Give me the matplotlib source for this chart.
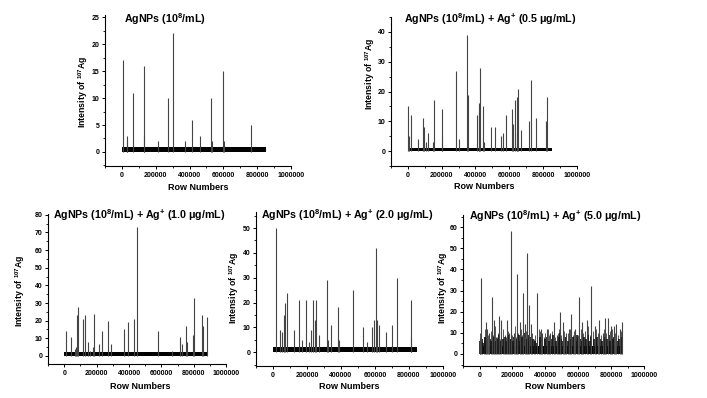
import numpy as np
import matplotlib.pyplot as plt
from matplotlib.ticker import MultipleLocator

plt.rcParams['font.family'] = ['Liberation Sans', 'DejaVu Sans']
plt.rcParams['font.weight'] = 'bold'
plt.rcParams['mathtext.fontset'] = 'custom'
plt.rcParams['mathtext.rm'] = 'Liberation Sans:bold'
plt.rcParams['mathtext.bf'] = 'Liberation Sans:bold'
plt.rcParams['mathtext.it'] = 'Liberation Sans:bold'
plt.rcParams['mathtext.default'] = 'rm'

# spikes: (row number, intensity)
p1_spikes = [(6000, 17), (28000, 2), (30000, 3), (68000, 11), (129000, 16), (131000, 3),
             (214000, 2), (273000, 10), (303000, 22), (374000, 2), (412000, 6),
             (465000, 3), (527000, 10), (535000, 2), (600000, 15), (605000, 2), (764000, 5)]
p2_spikes = [(2000, 15), (6000, 5), (20000, 12), (60000, 4), (90000, 11), (96000, 8),
             (110000, 3), (120000, 6), (150000, 3), (155000, 17), (201000, 5), (203000, 14),
             (285000, 27), (300000, 4), (352000, 39), (354000, 19), (408000, 12), (418000, 13),
             (420000, 16), (424000, 28), (444000, 15), (452000, 3), (492000, 8), (518000, 8),
             (548000, 5), (564000, 6), (578000, 12), (618000, 14), (622000, 9), (634000, 17),
             (644000, 18), (648000, 6), (654000, 21), (668000, 7), (714000, 10), (728000, 24),
             (757000, 11), (817000, 10), (821000, 18)]
p3_spikes = [(10000, 14), (41000, 11), (66000, 4), (72000, 5), (81000, 23), (85000, 28),
             (116000, 21), (126000, 23), (147000, 8), (157000, 3), (178000, 5), (184000, 24),
             (213000, 7), (233000, 14), (271000, 20), (287000, 7), (370000, 15), (395000, 19),
             (432000, 21), (446000, 73), (581000, 14), (667000, 3), (715000, 11), (725000, 7),
             (750000, 17), (760000, 8), (797000, 12), (804000, 33), (849000, 23), (855000, 17),
             (884000, 22)]
p4_spikes = [(20000, 50), (39000, 9), (53000, 8), (64000, 15), (72000, 20), (80000, 24),
             (121000, 9), (156000, 21), (170000, 5), (195000, 21), (213000, 4), (225000, 9),
             (238000, 21), (248000, 13), (254000, 21), (273000, 7), (316000, 29), (322000, 5),
             (342000, 11), (381000, 18), (391000, 5), (473000, 25), (531000, 10), (555000, 4),
             (580000, 10), (594000, 13), (604000, 42), (615000, 13), (625000, 11), (664000, 8),
             (703000, 11), (730000, 30), (811000, 21), (815000, 6)]
p5_spikes = [(0, 7), (8000, 36), (39000, 15), (45000, 12), (55000, 10), (76000, 27),
             (90000, 16), (100000, 8), (117000, 18), (133000, 16), (147000, 8), (164000, 16),
             (178000, 10), (194000, 58), (209000, 10), (229000, 38), (245000, 15), (266000, 29),
             (274000, 14), (288000, 48), (303000, 23), (313000, 14), (348000, 29), (372000, 12),
             (382000, 10), (407000, 12), (431000, 10), (450000, 15), (468000, 9), (491000, 20),
             (505000, 15), (525000, 10), (542000, 12), (558000, 19), (582000, 12), (607000, 27),
             (623000, 15), (654000, 16), (678000, 32), (699000, 13), (729000, 16), (749000, 10),
             (760000, 17), (780000, 17), (800000, 13), (817000, 13), (831000, 14), (851000, 12),
             (868000, 15)]
p5_noise = [(5000, 10), (15000, 6), (25000, 8), (32000, 12), (50000, 9), (60000, 7),
            (68000, 11), (83000, 9), (95000, 13), (105000, 8), (112000, 10), (125000, 7),
            (140000, 12), (152000, 9), (160000, 8), (170000, 11), (185000, 7), (200000, 9),
            (215000, 13), (222000, 8), (235000, 10), (252000, 12), (260000, 9), (280000, 11),
            (295000, 8), (320000, 10), (330000, 7), (340000, 9), (360000, 12), (365000, 11),
            (390000, 8), (400000, 10), (415000, 12), (425000, 9), (440000, 11), (458000, 8),
            (475000, 10), (485000, 12), (498000, 9), (512000, 11), (520000, 8), (535000, 10),
            (550000, 12), (565000, 9), (575000, 11), (590000, 8), (600000, 9), (615000, 12),
            (630000, 10), (640000, 11), (662000, 13), (670000, 9), (688000, 11), (710000, 12),
            (720000, 10), (740000, 9), (755000, 12), (770000, 10), (790000, 11), (808000, 12),
            (825000, 10), (840000, 9), (858000, 11)]
# dark ragged floor of the 5.0 ug/mL trace
p5_floor = [(3000, 6), (12000, 7), (20000, 5), (36000, 8), (42000, 6), (48000, 9), (64000, 7),
            (72000, 6), (88000, 8), (98000, 6), (108000, 7), (120000, 9), (130000, 6),
            (145000, 7), (156000, 8), (166000, 6), (175000, 9), (190000, 7), (205000, 6),
            (212000, 8), (226000, 7), (240000, 9), (248000, 6), (256000, 8), (270000, 10),
            (284000, 7), (292000, 9), (300000, 6), (308000, 8), (325000, 7), (335000, 6),
            (352000, 5), (370000, 8), (378000, 6), (395000, 7), (410000, 8), (420000, 6),
            (435000, 7), (445000, 9), (462000, 6), (480000, 8), (488000, 10), (495000, 7),
            (508000, 6), (528000, 8), (540000, 6), (555000, 7), (570000, 8), (585000, 6),
            (595000, 9), (610000, 7), (620000, 6), (635000, 8), (648000, 7), (658000, 9),
            (665000, 6), (680000, 8), (695000, 7), (705000, 6), (715000, 8), (733000, 7),
            (745000, 6), (762000, 8), (775000, 7), (785000, 9), (795000, 6), (812000, 7),
            (820000, 8), (835000, 6), (845000, 7), (862000, 8)]

# baseline band of 0/1 counts: (last row, level)
bases = [(850000, 1), (853000, 1), (884000, 2), (850000, 2), (872000, 4)]

titles = ['AgNPs (10$^{8}$/mL)',
          'AgNPs (10$^{8}$/mL) + Ag$^{+}$ (0.5 μg/mL)',
          'AgNPs (10$^{8}$/mL) + Ag$^{+}$ (1.0 μg/mL)',
          'AgNPs (10$^{8}$/mL) + Ag$^{+}$ (2.0 μg/mL)',
          'AgNPs (10$^{8}$/mL) + Ag$^{+}$ (5.0 μg/mL)']
ytops = [25, 40, 80, 50, 60]
ysteps = [5, 10, 10, 10, 10]

fig = plt.figure(figsize=(7.07, 3.98), dpi=100)

# [left, bottom, width, height], ylim, title xy, ylabel xy, xlabel xy
layout = [
    ([0.1485, 0.583, 0.263, 0.379], (-2.6, 25.4), (0.10, 0.975), (-0.078, 0.49), (0.50, -0.113)),
    ([0.553, 0.583, 0.263, 0.374], (-5, 45), (0.07, 0.99), (-0.073, 0.62), (0.50, -0.107)),
    ([0.068, 0.0854, 0.252, 0.377], (-4.6, 80.5), (0.03, 0.99), (-0.121, 0.49), (0.52, -0.12)),
    ([0.362, 0.0804, 0.2645, 0.387], (-5.6, 56.5), (0.027, 0.98), (-0.078, 0.51), (0.50, -0.104)),
    ([0.655, 0.0804, 0.256, 0.379], (-5.7, 65.7), (0.033, 0.995), (-0.075, 0.52), (0.51, -0.106)),
]
spikes = [p1_spikes, p2_spikes, p3_spikes, p4_spikes, p5_spikes]

for i in range(5):
    rect, ylim, tpos, ylpos, xlpos = layout[i]
    ax = fig.add_axes(rect)
    end, level = bases[i]
    ax.fill_between([0, end], 0, level, color='black', lw=0)
    if i == 4:
        nx, nh = zip(*p5_noise)
        ax.vlines(nx, 0, nh, color='#555555', lw=0.7)
        fx, fh = zip(*p5_floor)
        ax.vlines(fx, 0, fh, color='#111111', lw=1.2)
    xs, hs = zip(*spikes[i])
    ax.vlines(xs, 0, hs, color='#444444', lw=0.8)

    ax.set_xlim(-100000, 1000000)
    ax.set_ylim(*ylim)
    ax.set_yticks(np.arange(0, ytops[i] + 1, ysteps[i]))
    ax.set_xticks(np.arange(0, 1000001, 200000))
    ax.xaxis.set_minor_locator(MultipleLocator(100000))
    ax.yaxis.set_minor_locator(MultipleLocator(ysteps[i] / 2))
    ax.ticklabel_format(style='plain', axis='x')
    for s in ['top', 'right']:
        ax.spines[s].set_visible(False)
    for s in ['left', 'bottom']:
        ax.spines[s].set_linewidth(0.8)
    ax.tick_params(which='major', length=2.5, width=0.7, labelsize=5, pad=1.5)
    ax.tick_params(which='minor', length=1.5, width=0.6)
    for lab in ax.get_xticklabels() + ax.get_yticklabels():
        lab.set_fontweight('bold')

    ax.text(tpos[0], tpos[1], titles[i], transform=ax.transAxes, ha='left', va='center',
            fontsize=7.7, fontweight='bold')
    ax.set_ylabel('Intensity of $^{107}$Ag', fontsize=6.3, fontweight='bold')
    ax.yaxis.set_label_coords(*ylpos)
    ax.set_xlabel('Row Numbers', fontsize=6.5, fontweight='bold')
    ax.xaxis.set_label_coords(*xlpos)

fig.savefig('out.png', dpi=100)
